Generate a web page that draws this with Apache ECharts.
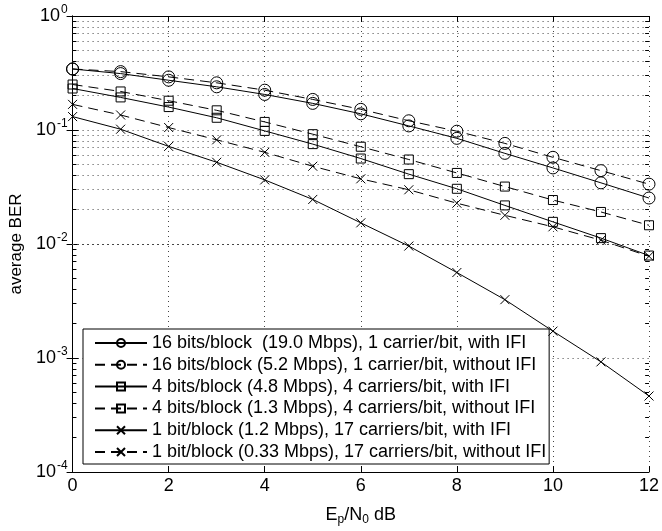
<!DOCTYPE html>
<html>
<head>
<meta charset="utf-8">
<script src="https://cdn.jsdelivr.net/npm/echarts@6/dist/echarts.min.js"></script>
<style>
  html, body { margin: 0; padding: 0; background: #fff; }
  #chart { width: 662px; height: 531px; }
</style>
</head>
<body>
<div id="chart"></div>
<script>
// Ep/N0 in dB
var snr = [0, 1, 2, 3, 4, 5, 6, 7, 8, 9, 10, 11, 12];

// average BER
var ber16With = [0.343, 0.3125, 0.2732, 0.2393, 0.205, 0.1712, 0.1387, 0.1086, 0.0845, 0.0624, 0.0465, 0.0344, 0.0253];
var ber16Without = [0.343, 0.3253, 0.2924, 0.2593, 0.2235, 0.1854, 0.1518, 0.1205, 0.0976, 0.0763, 0.0576, 0.044, 0.0335];
var ber4With = [0.2312, 0.1931, 0.1589, 0.128, 0.0982, 0.0752, 0.0562, 0.041, 0.0305, 0.0218, 0.01564, 0.01126, 0.00792];
var ber4Without = [0.2506, 0.2178, 0.1807, 0.1488, 0.1177, 0.0919, 0.0713, 0.0551, 0.042, 0.0319, 0.0243, 0.0191, 0.0146];
var ber1With = [0.1311, 0.1016, 0.0718, 0.0521, 0.0365, 0.0246, 0.01533, 0.00959, 0.00562, 0.00325, 0.00172, 0.000925, 0.000464];
var ber1Without = [0.1678, 0.1354, 0.1051, 0.082, 0.0637, 0.0481, 0.0373, 0.0299, 0.0228, 0.01785, 0.01415, 0.0108, 0.0078];

var seriesNames = [
  '16 bits/block  (19.0 Mbps), 1 carrier/bit, with IFI',
  '16 bits/block (5.2 Mbps), 1 carrier/bit, without IFI',
  '4 bits/block (4.8 Mbps), 4 carriers/bit, with IFI',
  '4 bits/block (1.3 Mbps), 4 carriers/bit, without IFI',
  '1 bit/block (1.2 Mbps), 17 carriers/bit, with IFI',
  '1 bit/block (0.33 Mbps), 17 carriers/bit, without IFI'
];

// y axis decades and the minor grid values inside them
var decades = [0.0001, 0.001, 0.01, 0.1];
var minorSteps = [2, 3, 4, 5, 6, 7, 8, 9];

var FONT = 'Arial, "Liberation Sans", sans-serif';
var crossPath = 'path://M0,0L10,10M10,0L0,10';
var DOTS = { color: '#444', width: 1, type: [1, 4] };

function pairs(ys) {
  return snr.map(function (x, i) { return [x, ys[i]]; });
}

var minorVals = [];
decades.forEach(function (d) {
  minorSteps.forEach(function (m) { minorVals.push(m * d); });
});

var gridLines = [];
minorVals.forEach(function (v) {
  gridLines.push({ yAxis: v });
});
// short inner ticks on left and right frame
var minorTicks = [];
minorVals.forEach(function (v) {
  minorTicks.push([{ coord: [0, v] }, { coord: [0.08, v] }]);
  minorTicks.push([{ coord: [11.92, v] }, { coord: [12, v] }]);
});

function makeSeries(name, ys, symbol, size, dashed) {
  return {
    name: name,
    type: 'line',
    data: pairs(ys),
    symbol: symbol,
    symbolSize: size,
    showSymbol: true,
    animation: false,
    lineStyle: { color: '#000', width: 1, type: dashed ? [10, 6] : 'solid' },
    itemStyle: { color: 'none', borderColor: '#000', borderWidth: 1 },
    z: 5
  };
}

var series = [
  makeSeries(seriesNames[0], ber16With, 'circle', 12, false),
  makeSeries(seriesNames[1], ber16Without, 'circle', 12, true),
  makeSeries(seriesNames[2], ber4With, 'rect', 9, false),
  makeSeries(seriesNames[3], ber4Without, 'rect', 9, true),
  makeSeries(seriesNames[4], ber1With, crossPath, 9, false),
  makeSeries(seriesNames[5], ber1Without, crossPath, 9, true)
];

series[0].markLine = {
  silent: true,
  symbol: 'none',
  animation: false,
  label: { show: false },
  lineStyle: DOTS,
  data: gridLines
};
series[1].markLine = {
  silent: true,
  symbol: 'none',
  animation: false,
  label: { show: false },
  lineStyle: { color: '#000', width: 1, type: 'solid' },
  data: minorTicks
};

var chart = echarts.init(document.getElementById('chart'));
chart.setOption({
  backgroundColor: '#fff',
  animation: false,
  grid: { left: 71, right: 10, top: 16, bottom: 56 },
  legend: {
    data: seriesNames,
    orient: 'vertical',
    left: 83,
    top: 329,
    padding: [5, 3, 3, 11],
    itemGap: 3.8,
    itemWidth: 52,
    itemHeight: 10,
    backgroundColor: '#fff',
    borderColor: '#000',
    borderWidth: 1,
    borderRadius: 0,
    textStyle: { color: '#000', fontSize: 18, fontFamily: FONT }
  },
  xAxis: [{
    type: 'value',
    min: 0,
    max: 12,
    interval: 2,
    name: 'E{sub|p}/N{sub|0} dB',
    nameLocation: 'middle',
    nameGap: 32,
    nameTextStyle: {
      color: '#000', fontSize: 18, fontFamily: FONT,
      rich: { sub: { fontSize: 12, fontFamily: FONT, color: '#000', padding: [10, 0, 0, 0] } }
    },
    axisLine: { lineStyle: { color: '#000', width: 1 } },
    axisTick: { inside: true, length: 6, lineStyle: { color: '#000' } },
    axisLabel: { color: '#000', fontSize: 18, fontFamily: FONT, margin: 5 },
    splitLine: { show: true, lineStyle: DOTS }
  }, {
    type: 'value',
    position: 'top',
    min: 0,
    max: 12,
    interval: 2,
    axisLine: { lineStyle: { color: '#000', width: 1 } },
    axisTick: { inside: true, length: 6, lineStyle: { color: '#000' } },
    axisLabel: { show: false },
    splitLine: { show: false }
  }],
  yAxis: [{
    type: 'log',
    logBase: 10,
    min: 0.0001,
    max: 1,
    name: 'average BER',
    nameLocation: 'middle',
    nameGap: 36,
    nameTextStyle: { color: '#000', fontSize: 17, fontFamily: FONT },
    axisLine: { lineStyle: { color: '#000', width: 1 } },
    axisTick: { inside: true, length: 6, lineStyle: { color: '#000' } },
    axisLabel: {
      color: '#000', fontSize: 18, fontFamily: FONT, margin: 5,
      formatter: function (v) {
        var e = Math.round(Math.log(v) / Math.LN10);
        return '10{sup|' + (e < 0 ? '-' + (-e) : e) + '}';
      },
      rich: { sup: { fontSize: 12, fontFamily: FONT, color: '#000', padding: [0, 0, 12, 1] } }
    },
    splitLine: { show: true, lineStyle: DOTS }
  }, {
    type: 'log',
    logBase: 10,
    min: 0.0001,
    max: 1,
    position: 'right',
    axisLine: { lineStyle: { color: '#000', width: 1 } },
    axisTick: { inside: true, length: 6, lineStyle: { color: '#000' } },
    axisLabel: { show: false },
    splitLine: { show: false }
  }],
  series: series
});
</script>
</body>
</html>
